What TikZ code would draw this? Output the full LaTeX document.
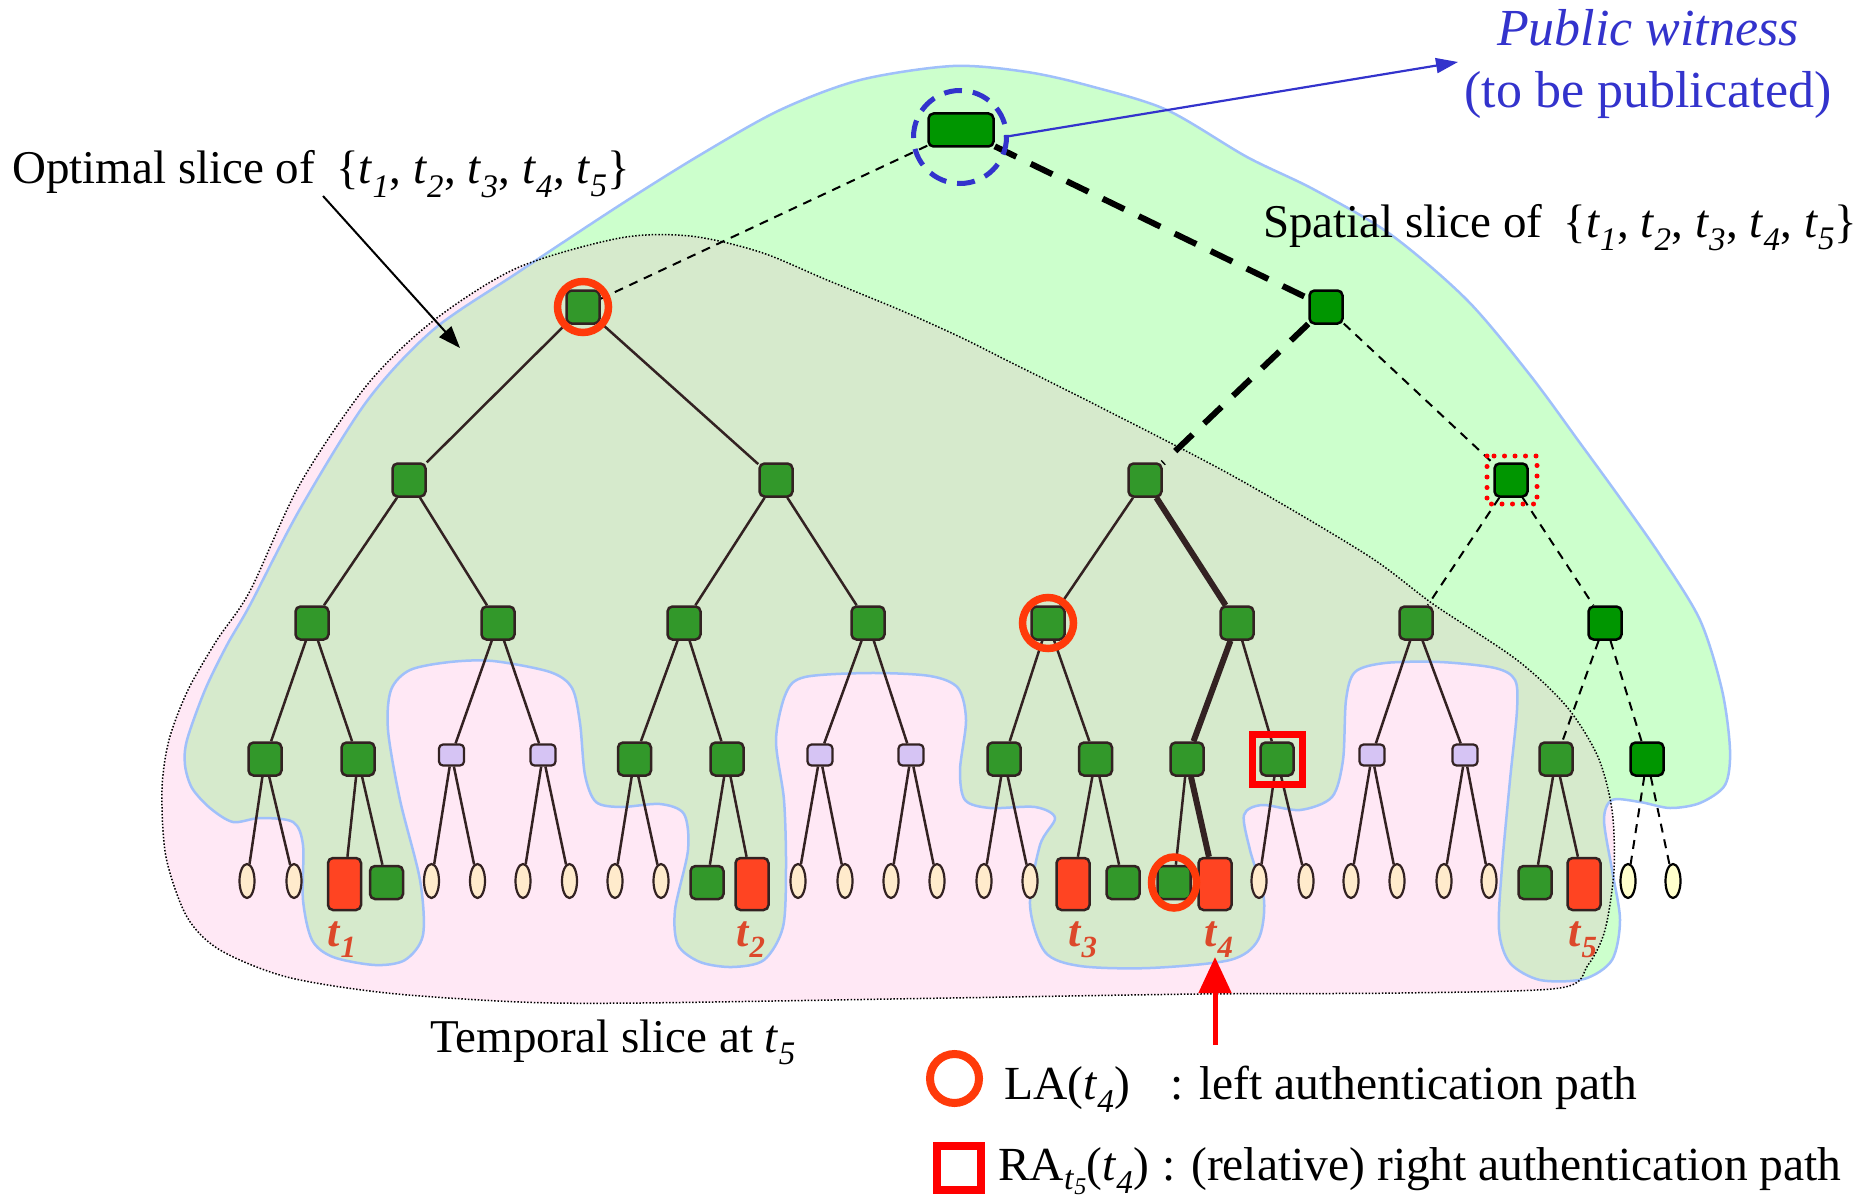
\documentclass[tikz,border=0pt]{standalone}
\usepackage{fontspec}
\setmainfont{Liberation Serif}
\usetikzlibrary{shapes.geometric,arrows.meta,calc}
\pgfdeclarelayer{back}
\pgfdeclarelayer{edges}
\pgfsetlayers{back,edges,main}
\definecolor{dkg}{RGB}{50,152,42}
\definecolor{brg}{RGB}{0,150,0}
\definecolor{brn}{RGB}{51,34,34}
\definecolor{lav}{RGB}{214,196,244}
\definecolor{leafc}{RGB}{255,235,204}
\definecolor{leafy}{RGB}{255,255,204}
\definecolor{redleaf}{RGB}{255,68,34}
\definecolor{lgreen}{RGB}{204,255,204}
\definecolor{ggreen}{RGB}{214,234,204}
\definecolor{pinkc}{RGB}{255,232,245}
\definecolor{outl}{RGB}{160,192,250}
\definecolor{wblue}{RGB}{51,51,204}
\definecolor{laorange}{RGB}{255,58,10}
\definecolor{tred}{RGB}{220,72,42}
\newcommand\tsb[1]{\textit{t}\textsubscript{\textit{#1}}}
\newcommand\tbl[1]{\textbf{\textit{t}\textsubscript{\textit{#1}}}}
\newcommand\tset{\{\tsb1, \tsb2, \tsb3, \tsb4, \tsb5\}}
\tikzset{
  tn/.style={rectangle, rounded corners=5pt, minimum width=33pt, minimum height=33pt, inner sep=0pt, line width=2.5pt},
  gn/.style={tn, fill=dkg, draw=brn},
  bn/.style={tn, fill=brg, draw=black},
  ln/.style={rectangle, rounded corners=4pt, minimum width=25pt, minimum height=21pt, inner sep=0pt, line width=2.2pt, fill=lav, draw=brn},
  le/.style={ellipse, minimum width=15pt, minimum height=34pt, inner sep=0pt, line width=2.2pt, fill=leafc, draw=brn},
  ly/.style={le, fill=leafy, draw=black},
  lg/.style={gn},
  lr/.style={tn, minimum height=52pt, fill=redleaf, draw=brn},
  ed/.style={line width=2.5pt, draw=brn},
  edth/.style={line width=6pt, draw=brn},
  eddash/.style={line width=2pt, draw=black, dash pattern=on 9pt off 7pt},
  edthdash/.style={line width=6pt, draw=black, dash pattern=on 24pt off 16pt},
  txt/.style={inner sep=0pt, anchor=base west, font=\fontsize{47pt}{55pt}\selectfont},
  lgd/.style={inner sep=0pt, anchor=base west, font=\fontsize{47.5pt}{55pt}\selectfont},
  tlab/.style={inner sep=0pt, anchor=base west, text=tred, font=\fontsize{44pt}{52pt}\selectfont},
  laring/.style={draw=laorange, line width=7.5pt},
}
\begin{document}
\begin{tikzpicture}[x=1pt,y=-1pt]
\useasboundingbox (0,0) rectangle (1863,1201);

% ---------- regions ----------
\begin{pgfonlayer}{back}
\path[save path=\spatialpath] plot[smooth cycle, tension=0.5] coordinates {
(187,740) (205,690) (227,645) (250,605) (300,509) (367,401) (433,330) (517,273) (620,205) (700,155) (780,110) (860,80) (953,66) (1027,72) (1090,86) (1167,110) (1247,157) (1313,189) (1390,234) (1467,300) (1530,375) (1580,443) (1620,498) (1660,555) (1700,620) (1722,690) (1730,750) (1725,785) (1700,803) (1670,808) (1640,802) (1612,800) (1604,820) (1612,870) (1620,920) (1612,960) (1584,979) (1540,980) (1510,963) (1499,930) (1502,867) (1510,780) (1517,710) (1515,680) (1495,668) (1440,662) (1385,663) (1355,672) (1346,700) (1343,760) (1332,797) (1300,810) (1262,805) (1244,815) (1250,850) (1264,900) (1258,940) (1230,960) (1150,968) (1080,966) (1045,952) (1030,905) (1040,845) (1055,818) (1035,807) (990,808) (965,800) (960,770) (966,720) (958,688) (930,676) (870,673) (805,677) (786,693) (776,740) (784,800) (786,867) (783,927) (764,960) (732,967) (700,962) (678,945) (675,910) (688,850) (684,814) (660,804) (621,807) (596,802) (585,775) (580,723) (572,688) (550,672) (493,661) (450,662) (410,670) (391,690) (388,730) (400,800) (420,880) (423,935) (405,960) (375,965) (333,957) (312,940) (303,900) (303,845) (293,822) (260,818) (233,822) (210,808) (192,788) (185,765)};
\path[save path=\temporalpath] plot[smooth cycle, tension=0.5] coordinates {
(162,790) (169,740) (188,690) (217,640) (250,591) (300,484) (367,385) (433,321) (517,268) (620,238) (690,236) (760,252) (827,280) (900,310) (960,337) (1010,362) (1100,407) (1233,476) (1367,555) (1433,604) (1517,660) (1567,707) (1598,757) (1612,810) (1614,870) (1605,930) (1588,965) (1560,988) (1400,993) (1200,994) (950,998) (640,1003) (520,1002) (387,993) (287,977) (220,950) (187,917) (166,857)};
\fill[pinkc, use path=\temporalpath];
\fill[lgreen, use path=\spatialpath];
\begin{scope}
  \path[clip, use path=\temporalpath];
  \fill[ggreen, use path=\spatialpath];
\end{scope}
\draw[outl, line width=2.5pt, use path=\spatialpath];
\draw[black, line width=1.5pt, dash pattern=on 1.5pt off 1.8pt, use path=\temporalpath];
\end{pgfonlayer}

% ---------- tree nodes ----------
\node[bn, minimum width=65pt] (root) at (961,130) {};
\node[gn] (a1) at (583,307) {};
\node[bn] (a2) at (1326,307) {};
\foreach \x/\s [count=\i] in {409/gn,776/gn,1145/gn,1511/bn}
  \node[\s] (b\i) at (\x,480) {};
\foreach \x/\s [count=\i] in {312/gn,498/gn,684/gn,868/gn,1048/gn,1237/gn,1416/gn,1605/bn}
  \node[\s] (c\i) at (\x,623) {};
\foreach \x/\y/\s [count=\i] in {265/759/gn,358/759/gn,451.5/755/ln,543/755/ln,634.5/759/gn,727/759/gn,820/755/ln,911/755/ln,1004/759/gn,1095.5/759/gn,1187/759/gn,1277/759/gn,1372/755/ln,1465/755/ln,1556/759/gn,1647/759/bn}
  \node[\s] (d\i) at (\x,\y) {};
\foreach \x/\y/\s [count=\i] in {247/881/le,294/881/le,344.5/884/lr,386.5/882.5/lg,431.5/881/le,477.5/881/le,523/881/le,569.5/881/le,615/881/le,661/881/le,707/882.5/lg,752/884/lr,798/881/le,845/881/le,891/881/le,937/881/le,984/881/le,1030/881/le,1073/884/lr,1123/882.5/lg,1174/882.5/lg,1215/884/lr,1259/881/le,1306/881/le,1351/881/le,1397/881/le,1444/881/le,1489/881/le,1535/882.5/lg,1584/884/lr,1628/881/ly,1673/881/ly}
  \node[\s] (e\i) at (\x,\y) {};

% ---------- edges ----------
\begin{pgfonlayer}{edges}
\foreach \i in {1,...,15}{
  \pgfmathtruncatemacro\ea{2*\i-1}\pgfmathtruncatemacro\eb{2*\i}
  \draw[ed] (d\i) -- (e\ea); \draw[ed] (d\i) -- (e\eb);}
\draw[eddash] (d16) -- (e31); \draw[eddash] (d16) -- (e32);
\foreach \i in {1,...,7}{
  \pgfmathtruncatemacro\ea{2*\i-1}\pgfmathtruncatemacro\eb{2*\i}
  \draw[ed] (c\i) -- (d\ea); \draw[ed] (c\i) -- (d\eb);}
\draw[eddash] (c8) -- (d15); \draw[eddash] (c8) -- (d16);
\foreach \i in {1,...,3}{
  \pgfmathtruncatemacro\ea{2*\i-1}\pgfmathtruncatemacro\eb{2*\i}
  \draw[ed] (b\i) -- (c\ea); \draw[ed] (b\i) -- (c\eb);}
\draw[eddash] (b4) -- (c7); \draw[eddash] (b4) -- (c8);
\draw[ed] (a1) -- (b1); \draw[ed] (a1) -- (b2);
\draw[edthdash] (a2) -- (b3); \draw[eddash] (a2) -- (b4);
\draw[eddash] (root) -- (a1); \draw[edthdash] (root) -- (a2);
% thick path
\draw[edth] (b3) -- (c6); \draw[edth] (c6) -- (d11); \draw[edth] (d11) -- (e22);
\end{pgfonlayer}

% ---------- markers ----------
\draw[wblue, line width=5pt, dash pattern=on 18pt off 11pt] (960,137) circle[radius=46.5];
\draw[laring] (a1.center) circle[radius=25.5];
\draw[laring] (c5.center) circle[radius=25.5];
\draw[laring] (e21.center) ellipse[x radius=22.5, y radius=25.5];
\draw[red, line width=7pt] ($(d12.center)+(-25,-25)$) rectangle ($(d12.center)+(25,25)$);
\draw[red, line width=5pt, line cap=round, dash pattern=on 0pt off 10.5pt] (1487,456) rectangle (1537,504);

% ---------- leaf labels ----------
\node[tlab] (lt1) at (327,946) {\tbl1};
\node[tlab] (lt2) at (736,946) {\tbl2};
\node[tlab] (lt3) at (1068,946) {\tbl3};
\node[tlab] (lt4) at (1204,946) {\tbl4};
\node[tlab] (lt5) at (1568,946) {\tbl5};

% ---------- texts ----------
\node[txt] (opt) at (12,184) {Optimal slice of\hspace{0.45em}\tset};
\node[txt] (spa) at (1263,237) {Spatial slice of\hspace{0.45em}\tset};
\node[txt] (tem) at (430,1052) {Temporal slice at \tsb5};
\node[inner sep=0pt, anchor=base, text=wblue, font=\fontsize{52pt}{60pt}\selectfont\itshape] (pw1) at (1648,46) {Public witness};
\node[inner sep=0pt, anchor=base, text=wblue, font=\fontsize{52pt}{60pt}\selectfont] (pw2) at (1648,108) {(to be publicated)};

% ---------- arrows ----------
\coordinate (optA) at (323,196);
\coordinate (optB) at (460,348);
\draw[black, line width=2pt, -{Triangle[length=22pt,width=16pt]}] (optA) -- (optB);
\coordinate (pwA) at (1004,137);
\coordinate (pwB) at (1458,62);
\draw[wblue, line width=2.2pt, -{Triangle[length=22pt,width=15pt]}] (pwA) -- (pwB);
\coordinate (raA) at (1215,1045);
\coordinate (raB) at (1215,957);
\draw[red, line width=5pt, -{Triangle[length=36pt,width=32pt]}] (raA) -- (raB);

% ---------- legend ----------
\draw[laring, line width=8pt] (954.5,1078.5) circle[radius=24.5];
\draw[red, line width=8pt] (937,1146) rectangle (981,1190);
\node[lgd] (lg1) at (1004,1099) {\makebox[166pt][l]{LA(\tsb4)}: left authentication path};
\node[lgd] (lg2) at (998,1180) {\makebox[164pt][l]{RA\raisebox{-0.2em}{\fontsize{34pt}{38pt}\selectfont\textit{t}\raisebox{-0.15em}{\fontsize{24pt}{28pt}\selectfont\textit{5}}}(\tsb4)}: (relative) right authentication path};
\end{tikzpicture}
\end{document}
